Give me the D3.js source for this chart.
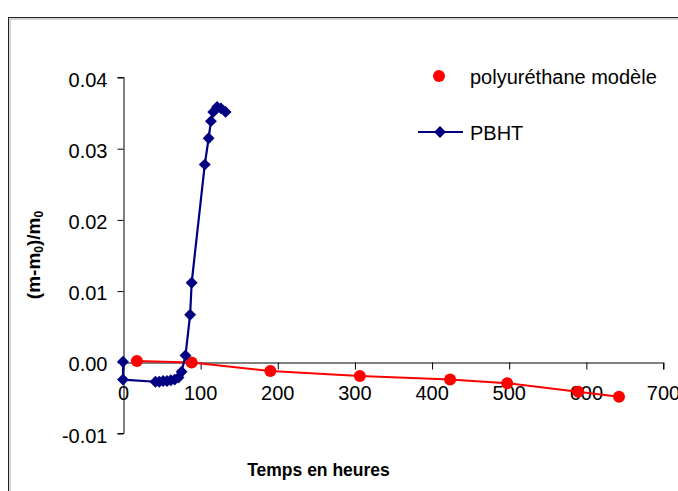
<!DOCTYPE html>
<html><head><meta charset="utf-8">
<script src="https://cdn.jsdelivr.net/npm/d3@7"></script>
<style>body{margin:0;background:#fff}svg{display:block;font-family:"Liberation Sans",Arial,sans-serif}</style>
</head><body>
<svg id="c" width="678" height="491"></svg>
<script>
const puHours = [18, 89, 191, 307, 424, 498, 590, 643];
const puValues = [0.0001, -0.0001, -0.0013, -0.0020, -0.0025, -0.0030, -0.0042, -0.0049];
const pbhtHours = [0, 0, 42, 47, 52, 57, 62, 67, 72, 76, 81, 87, 89, 106, 111, 114, 117, 122, 127, 133];
const pbhtValues = [0, -0.0025, -0.0028, -0.0028, -0.0027, -0.0027, -0.0026, -0.0025, -0.0022, -0.0014, 0.0009, 0.0066, 0.0111, 0.0277, 0.0314, 0.0338, 0.0351, 0.0358, 0.0356, 0.0351];
const xTicks = [0, 100, 200, 300, 400, 500, 600, 700];
const yTicks = [-0.01, 0, 0.01, 0.02, 0.03, 0.04];
const seriesNames = ["polyuréthane modèle", "PBHT"];

const svg = d3.select("#c");
svg.append("rect").attr("x", 8.5).attr("y", 17.5).attr("width", 700).attr("height", 500)
  .attr("fill", "none").attr("stroke", "#222").attr("stroke-width", 1);
svg.append("rect").attr("x", 10).attr("y", 19).attr("width", 700).attr("height", 500)
  .attr("fill", "none").attr("stroke", "#aaa").attr("stroke-width", 1);

const x = d3.scaleLinear().domain([0, 700]).range([123, 663]);
const y = d3.scaleLinear().domain([-0.01, 0.04]).range([433, 77]);
const FONT = "Liberation Sans, Arial, sans-serif";
const yFmt = d => d3.format(".2f")(d).replace("\u2212", "-");

// y axis
const ya = svg.append("g").attr("transform", "translate(123.5,0)")
  .call(d3.axisLeft(y).tickValues(yTicks).tickFormat(yFmt).tickSizeOuter(0).tickSize(6).tickPadding(10));
ya.select(".domain").attr("stroke", "#000");
ya.selectAll("text").attr("font-size", 20).attr("fill", "#000").attr("font-family", FONT).attr("dy", "0.45em");
ya.selectAll(".tick line").attr("transform", "translate(0,0.5)");

// x axis at y=0
const xa = svg.append("g").attr("transform", `translate(0,${Math.round(y(0)) + 0.5})`)
  .call(d3.axisBottom(x).tickValues(xTicks).tickFormat(d3.format("d")).tickSizeOuter(0).tickSize(7).tickPadding(16));
xa.select(".domain").attr("stroke", "#000");
xa.selectAll("text").attr("font-size", 20).attr("fill", "#000").attr("font-family", FONT);
xa.selectAll(".tick line").attr("transform", "translate(0.5,0)");

const pu = puHours.map((h, i) => [h, puValues[i]]);
const pb = pbhtHours.map((h, i) => [h, pbhtValues[i]]);
const line = d3.line().x(d => x(d[0])).y(d => y(d[1]));

svg.append("path").datum(pu).attr("d", line).attr("fill", "none").attr("stroke", "#ff0000").attr("stroke-width", 2);
svg.selectAll(".pu").data(pu).enter().append("circle")
  .attr("cx", d => x(d[0])).attr("cy", d => y(d[1])).attr("r", 6).attr("fill", "#ff0000");

svg.append("path").datum(pb).attr("d", line).attr("fill", "none").attr("stroke", "#000080").attr("stroke-width", 2.2);
const diamond = d3.symbol().type(d3.symbolDiamond2).size(90);
svg.selectAll(".pb").data(pb).enter().append("path")
  .attr("d", diamond).attr("transform", d => `translate(${x(d[0])},${y(d[1])})`).attr("fill", "#000080");

// legend
svg.append("circle").attr("cx", 439).attr("cy", 76).attr("r", 6).attr("fill", "#ff0000");
svg.append("text").attr("x", 470).attr("y", 84).attr("font-size", 20).text(seriesNames[0]);
svg.append("line").attr("x1", 418).attr("x2", 463).attr("y1", 132).attr("y2", 132).attr("stroke", "#000080").attr("stroke-width", 2);
svg.append("path").attr("d", diamond).attr("transform", "translate(440,132)").attr("fill", "#000080");
svg.append("text").attr("x", 470).attr("y", 140).attr("font-size", 20).text(seriesNames[1]);

// axis titles
svg.append("text").attr("x", 318.5).attr("y", 476).attr("text-anchor", "middle")
  .attr("font-size", 17.5).attr("font-weight", "bold").text("Temps en heures");
const yt = svg.append("text").attr("transform", "translate(40,255) rotate(-90)").attr("text-anchor", "middle")
  .attr("font-size", 19).attr("font-weight", "bold");
yt.append("tspan").text("(m-m");
yt.append("tspan").attr("font-size", 12).attr("dy", 3).text("0");
yt.append("tspan").attr("dy", -3).text(")/m");
yt.append("tspan").attr("font-size", 12).attr("dy", 3).text("0");
</script>
</body></html>
